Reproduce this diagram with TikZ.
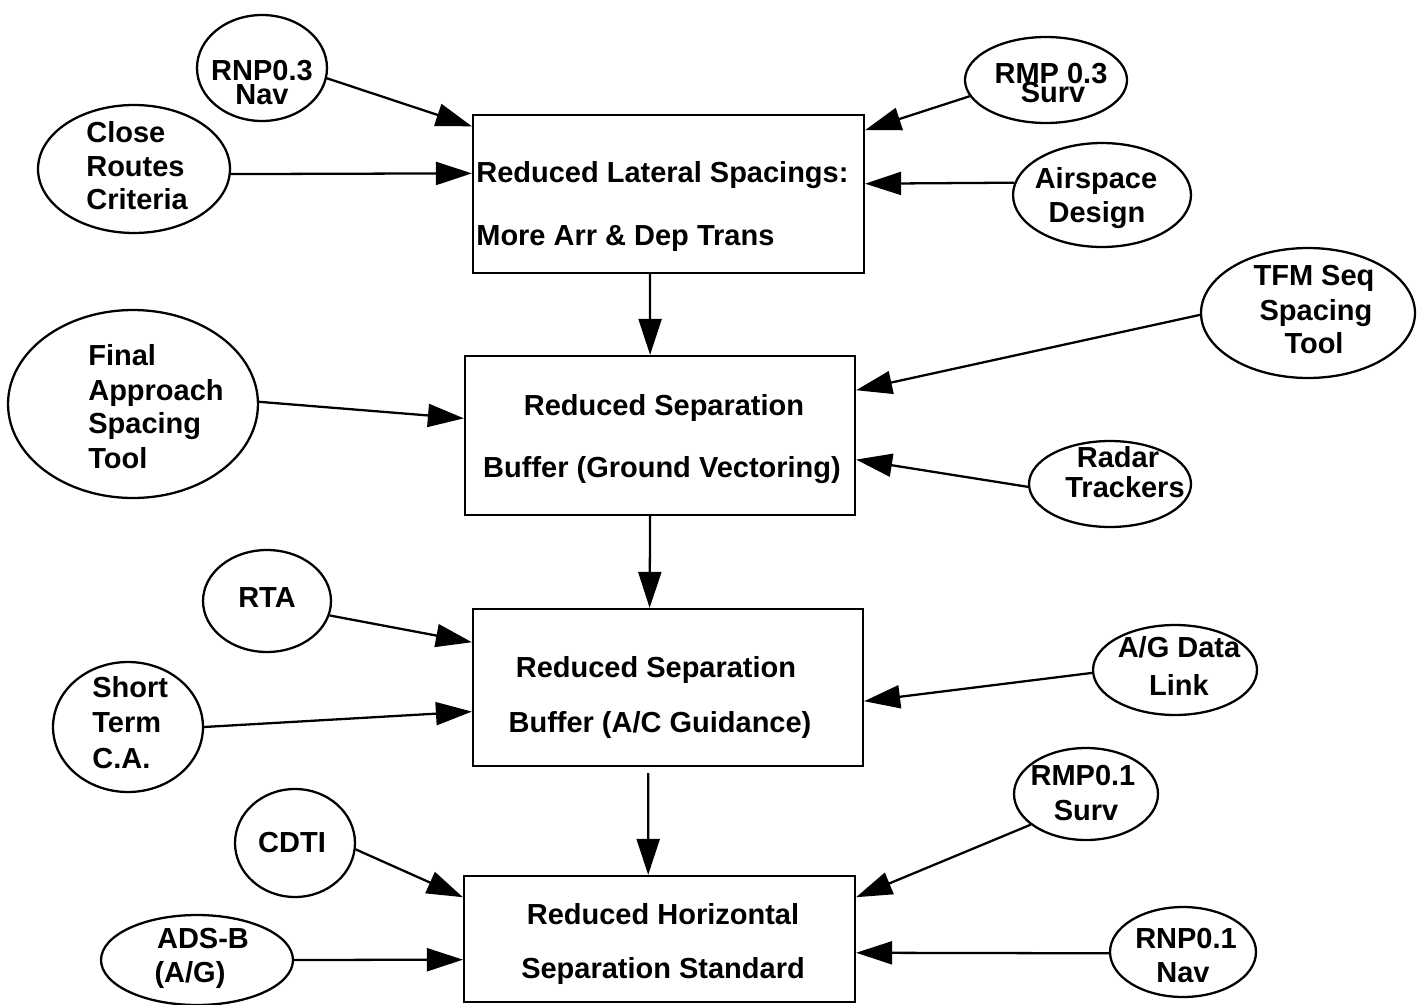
\documentclass[tikz,border=0pt]{standalone}
\usepackage{fontspec}
\setmainfont{Liberation Sans}
\usetikzlibrary{shapes.geometric,arrows.meta}

\begin{document}
\begin{tikzpicture}[x=0.02cm,y=-0.02cm,
  ell/.style={ellipse, draw, line width=1.3pt, inner sep=0pt},
  stage/.style={rectangle, draw, line width=1.3pt, inner sep=0pt},
  lbl/.style={inner sep=0pt, font=\bfseries\fontsize{16.5}{18}\selectfont},
  feed/.style={line width=1.3pt, -{Triangle[length=0.72cm,width=0.46cm]}}
]
\useasboundingbox (0,0) rectangle (1426,1004);

% stages
\node[stage, minimum width=7.82cm, minimum height=3.16cm] (box1) at (668.5,194) {};
\node[stage, minimum width=7.80cm, minimum height=3.18cm] (box2) at (660,435.5) {};
\node[stage, minimum width=7.80cm, minimum height=3.14cm] (box3) at (668,687.5) {};
\node[stage, minimum width=7.82cm, minimum height=2.52cm] (box4) at (659.5,939) {};

\node[lbl, anchor=base west] (b1a) at (476,182) {Reduced Lateral Spacings:};
\node[lbl, anchor=base west] (b1b) at (476,245) {More Arr \& Dep Trans};
\node[lbl, anchor=base] (b2a) at (664,415) {Reduced Separation};
\node[lbl, anchor=base] (b2b) at (662,477) {Buffer (Ground Vectoring)};
\node[lbl, anchor=base] (b3a) at (656,677) {Reduced Separation};
\node[lbl, anchor=base] (b3b) at (660,732) {Buffer (A/C Guidance)};
\node[lbl, anchor=base] (b4a) at (663,924) {Reduced Horizontal};
\node[lbl, anchor=base] (b4b) at (663,978) {Separation Standard};

% enablers
\node[ell, minimum width=2.60cm, minimum height=2.12cm] (rnp03) at (262,68) {};
\node[ell, minimum width=3.84cm, minimum height=2.56cm] (close) at (134,169) {};
\node[ell, minimum width=5.00cm, minimum height=3.76cm] (final) at (133,404) {};
\node[ell, minimum width=3.24cm, minimum height=1.72cm] (rmp03) at (1046,80) {};
\node[ell, minimum width=3.56cm, minimum height=2.08cm] (airsp) at (1102,195) {};
\node[ell, minimum width=4.28cm, minimum height=2.60cm] (tfm) at (1308,313) {};
\node[ell, minimum width=3.24cm, minimum height=1.72cm] (radar) at (1110,484) {};
\node[ell, minimum width=2.56cm, minimum height=2.04cm] (rta) at (267,601) {};
\node[ell, minimum width=3.00cm, minimum height=2.60cm] (short) at (128,727) {};
\node[ell, minimum width=2.40cm, minimum height=2.16cm] (cdti) at (295,843) {};
\node[ell, minimum width=3.84cm, minimum height=1.80cm] (adsb) at (197,960) {};
\node[ell, minimum width=3.28cm, minimum height=1.80cm] (agdl) at (1175,670) {};
\node[ell, minimum width=2.88cm, minimum height=1.84cm] (rmp01) at (1086,794) {};
\node[ell, minimum width=2.92cm, minimum height=1.80cm] (rnp01) at (1183,952) {};

\node[lbl, anchor=base] (l1a) at (262,80) {RNP0.3};
\node[lbl, anchor=base] (l1b) at (262,104) {Nav};
\node[lbl, anchor=base west] (l2a) at (86,142) {Close};
\node[lbl, anchor=base west] (l2b) at (86,176) {Routes};
\node[lbl, anchor=base west] (l2c) at (86,209) {Criteria};
\node[lbl, anchor=base west] (l3a) at (88,365) {Final};
\node[lbl, anchor=base west] (l3b) at (88,400) {Approach};
\node[lbl, anchor=base west] (l3c) at (88,433) {Spacing};
\node[lbl, anchor=base west] (l3d) at (88,468) {Tool};
\node[lbl, anchor=base] (l4a) at (1051,83) {RMP 0.3};
\node[lbl, anchor=base] (l4b) at (1053,102) {Surv};
\node[lbl, anchor=base] (l5a) at (1096,188) {Airspace};
\node[lbl, anchor=base] (l5b) at (1097,222) {Design};
\node[lbl, anchor=base] (l6a) at (1314,285) {TFM Seq};
\node[lbl, anchor=base] (l6b) at (1316,320) {Spacing};
\node[lbl, anchor=base] (l6c) at (1314,353) {Tool};
\node[lbl, anchor=base] (l7a) at (1118,467) {Radar};
\node[lbl, anchor=base] (l7b) at (1125,497) {Trackers};
\node[lbl, anchor=base] (l8a) at (267,607) {RTA};
\node[lbl, anchor=base west] (l9a) at (92,697) {Short};
\node[lbl, anchor=base west] (l9b) at (92,732) {Term};
\node[lbl, anchor=base west] (l9c) at (92,768) {C.A.};
\node[lbl, anchor=base] (l10a) at (292,852) {CDTI};
\node[lbl, anchor=base] (l11a) at (203,948) {ADS-B};
\node[lbl, anchor=base] (l11b) at (190,982) {(A/G)};
\node[lbl, anchor=base] (l12a) at (1179,657) {A/G Data};
\node[lbl, anchor=base] (l12b) at (1179,695) {Link};
\node[lbl, anchor=base] (l13a) at (1083,785) {RMP0.1};
\node[lbl, anchor=base] (l13b) at (1086,820) {Surv};
\node[lbl, anchor=base] (l14a) at (1186,948) {RNP0.1};
\node[lbl, anchor=base] (l14b) at (1183,982) {Nav};

% flow between stages
\draw[feed] (box1.257) -- (box2.97);
\draw[feed] (box2.263) -- (box3.103);
\draw[feed, shorten <=3.4pt] (box3.256) -- (box4.100);

% enabler inputs
\draw[feed] (rnp03.-9) -- (box1.161);
\draw[feed] (close.-3) -- (box1.174);
\draw[feed] (rmp03.192) -- (box1.18);
\draw[feed] (airsp.172) -- (box1.3);
\draw[feed] (tfm.181) -- (box2.13);
\draw[feed] (final.1) -- (box2.175);
\draw[feed] (radar.182) -- (box2.-7);
\draw[feed] (rta.-13) -- (box3.167);
\draw[feed] (short.0) -- (box3.187);
\draw[feed] (agdl.182) -- (box3.-4);
\draw[feed] (cdti.-6) -- (box4.168);
\draw[feed] (adsb.0) -- (box4.186);
\draw[feed] (rmp01.209) -- (box4.12);
\draw[feed] (rnp01.181) -- (box4.-4);
\end{tikzpicture}
\end{document}
